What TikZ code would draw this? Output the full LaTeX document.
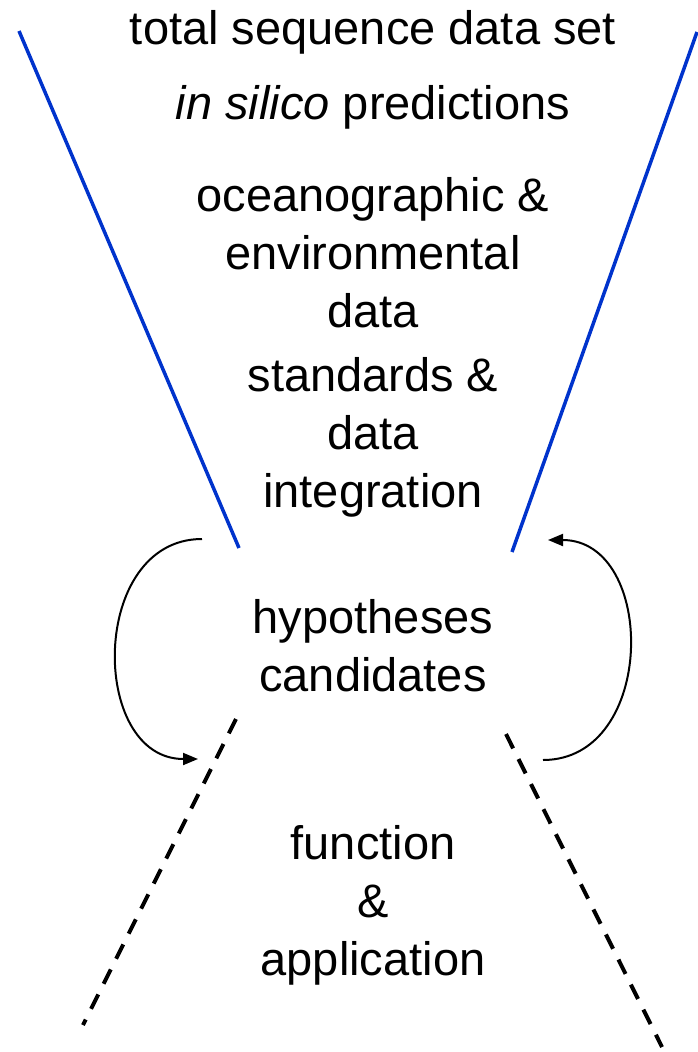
\documentclass[tikz,border=0pt]{standalone}
\usepackage{fontspec}
\setmainfont{Liberation Sans}
\usetikzlibrary{arrows.meta}
\definecolor{funnelblue}{RGB}{0,51,204}

\begin{document}
\begin{tikzpicture}[x=1pt, y=-1pt,
    every node/.style={font=\fontsize{47}{58}\selectfont, align=center, inner sep=0pt},
    funnel/.style={funnelblue, line width=3.5pt},
    spout/.style={line width=4pt, dash pattern=on 16pt off 12pt},
    loop/.style={line width=2pt, -{Triangle[length=15pt, width=12pt]}}]
      \useasboundingbox (0,0) rectangle (697,1052);

      % anchor=base is the baseline of the last line
      \node[anchor=base] (total) at (373,44) {total sequence data set};
      \node[anchor=base] (silico) at (373,119) {\textit{in silico} predictions};
      \node[anchor=base] (ocean) at (373,327) {oceanographic \&\\environmental\\data};
      \node[anchor=base] (standards) at (373,507) {standards \&\\data\\integration};
      \node[anchor=base] (hypo) at (373,691) {hypotheses\\candidates};
      \node[anchor=base] (function) at (373,975) {function\\\&\\application};

      \foreach \nom/\xa/\ya/\xb/\yb in {fl/19/31/239/548, fr/697/32/512/552} {
        \coordinate (\nom top) at (\xa,\ya);
        \coordinate (\nom bot) at (\xb,\yb);
        \draw[funnel] (\nom top) -- (\nom bot);
      }
      \foreach \nom/\xa/\ya/\xb/\yb in {sl/236/719/83/1025, sr/506/734/662/1047} {
        \coordinate (\nom top) at (\xa,\ya);
        \coordinate (\nom bot) at (\xb,\yb);
        \draw[spout] (\nom top) -- (\nom bot);
      }

      \coordinate (down start) at (202,539);
      \coordinate (down end) at (198,759);
      \coordinate (up start) at (543,760);
      \coordinate (up end) at (548,540);
      \draw[loop] (down start) .. controls (89,539) and (89,759) .. (down end);
      \draw[loop] (up start) .. controls (657,760) and (657,540) .. (up end);
    \end{tikzpicture}
\end{document}
